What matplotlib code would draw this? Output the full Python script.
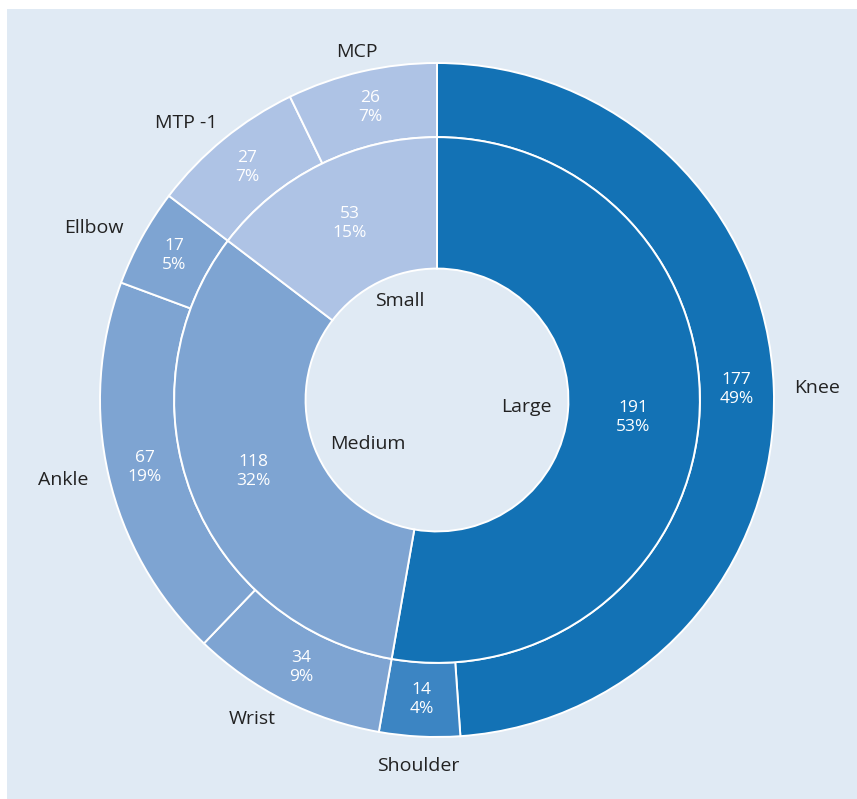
import numpy as np
import matplotlib.pyplot as plt
from matplotlib.patches import Rectangle

plt.rcParams['font.family'] = ['Open Sans', 'DejaVu Sans']

# outer ring: joints
joints = ['Knee', 'Shoulder', 'Wrist', 'Ankle', 'Ellbow', 'MTP -1', 'MCP']
joint_counts = [177, 14, 34, 67, 17, 27, 26]
joint_pct = ['49%', '4%', '9%', '19%', '5%', '7%', '7%']

# inner ring: joint size groups
groups = ['Large', 'Medium', 'Small']
group_counts = [191, 118, 53]
group_pct = ['53%', '32%', '15%']

c_large = '#1372b5'
c_shoulder = '#3c85c3'
c_medium = '#7ea4d2'
c_small = '#aec3e5'
bg = '#e0eaf4'

joint_colors = [c_large, c_shoulder, c_medium, c_medium, c_medium, c_small, c_small]
group_colors = [c_large, c_medium, c_small]

W, H = 857, 799
fig = plt.figure(figsize=(W / 100, H / 100), dpi=100)
fig.patches.append(Rectangle((7 / W, 0), 1, 1 - 9 / H, transform=fig.transFigure,
                             facecolor=bg, edgecolor='none', zorder=-5))

ax = fig.add_axes([0, 0, 1, 1])
ax.set_facecolor('none')
ax.set_zorder(1)

wp = dict(edgecolor='white', linewidth=1.4)

outer, ltexts, vtexts = ax.pie(
    joint_counts, radius=1, startangle=90, counterclock=False,
    colors=joint_colors, labels=joints, labeldistance=1.06,
    autopct=lambda p: '', pctdistance=0.89,
    wedgeprops=dict(width=0.22, **wp),
    textprops=dict(fontsize=14, color='#222222'))
for t, n, p in zip(vtexts, joint_counts, joint_pct):
    t.set_text(f'{n}\n{p}')
    t.set_color('white')
    t.set_fontsize(12.5)
    t.set_linespacing(1.25)
for w, t in zip(outer, ltexts):
    name = t.get_text()
    if name == 'Shoulder':
        t.set_ha('center')
        t.set_va('top')
    elif name == 'MCP':
        t.set_ha('center')
    elif name == 'MTP -1':
        a = np.deg2rad((w.theta1 + w.theta2) / 2)
        t.set_position((1.03 * np.cos(a), 1.06 * np.sin(a)))

inner, gtexts, gvtexts = ax.pie(
    group_counts, radius=0.78, startangle=90, counterclock=False,
    colors=group_colors, autopct=lambda p: '', pctdistance=0.75,
    wedgeprops=dict(width=0.39, **wp))
for t, n, p in zip(gvtexts, group_counts, group_pct):
    t.set_text(f'{n}\n{p}')
    t.set_color('white')
    t.set_fontsize(12.5)
    t.set_linespacing(1.25)

# group names inside the hole
hole_pos = [(0.265, -0.02), (-0.205, -0.13), (-0.11, 0.295)]
for g, (x, y) in zip(groups, hole_pos):
    ax.text(x, y, g, ha='center', va='center', fontsize=14, color='#222222')

# pie centre (437, 400) px, radius 337 px
cx, cy, R = 437, 400, 337
ax.set_aspect('auto')
ax.set_xlim(-cx / R, (W - cx) / R)
ax.set_ylim(-(H - cy) / R, cy / R)
ax.axis('off')

fig.savefig('out.png', dpi=100)
